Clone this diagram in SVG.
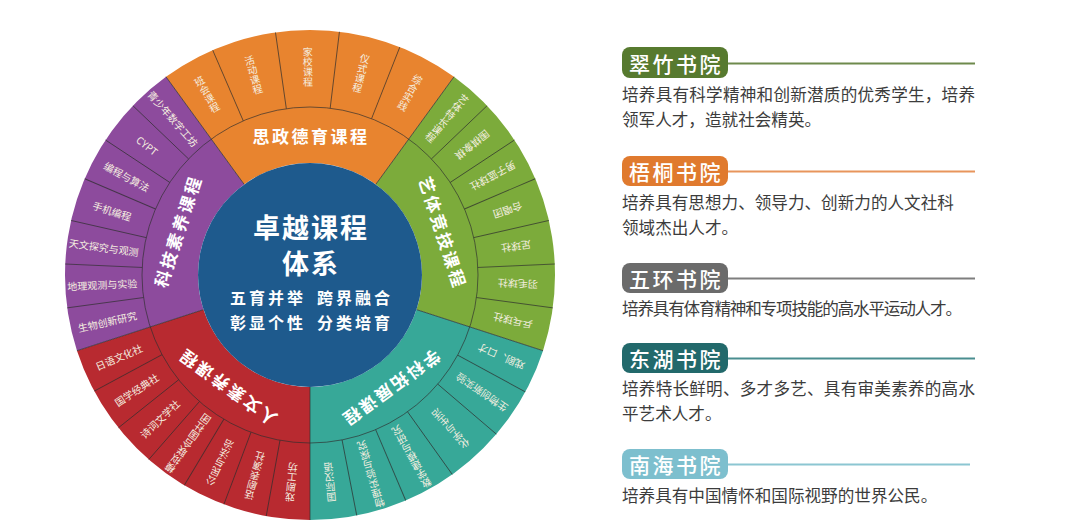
<svg xmlns="http://www.w3.org/2000/svg" width="1080" height="531" viewBox="0 0 1080 531">
<style>
text{font-family:"Noto Sans CJK SC","Noto Sans",sans-serif}
.sep{stroke:#2e2e2e;stroke-width:0.9;stroke-opacity:0.75;fill:none}
.cat{font-weight:700;font-size:17px;fill:#fff;letter-spacing:2.5px}
.lbl{font-size:10px;fill:#f5efe0}
.v{writing-mode:vertical-rl}
.title{font-weight:700;font-size:27px;fill:#fff;letter-spacing:2px}
.motto{font-weight:700;font-size:16px;fill:#fff;letter-spacing:3px}
.tag{font-size:21px;fill:#fff;letter-spacing:2.5px;font-weight:500}
.desc{font-size:16.6px;fill:#3c3c3c}
.tl{stroke-width:2;fill:none}
</style>
<rect width="1080" height="531" fill="#ffffff"/>

<g id="cat-sizheng">
<path d="M 165.99 76.79 A 245 245 0 0 1 454.01 76.79 L 375.83 184.39 A 112 112 0 0 0 244.17 184.39 Z" fill="#e8842f"/>
<text class="cat" transform="translate(310 275) rotate(0)" x="1" y="-140" text-anchor="middle" dominant-baseline="central">思政德育课程</text>
<g transform="translate(310 275)">
<text class="lbl v" transform="rotate(-29.7)" x="0" y="-208" text-anchor="middle">班会课程</text>
<text class="lbl v" transform="rotate(-15.75)" x="0" y="-208" text-anchor="middle">活动课程</text>
<text class="lbl v" transform="rotate(-0.6)" x="0" y="-208" text-anchor="middle">家校课程</text>
<text class="lbl v" transform="rotate(14.2)" x="0" y="-208" text-anchor="middle">仪式课程</text>
<text class="lbl v" transform="rotate(28.75)" x="0" y="-208" text-anchor="middle">综合实践</text>
</g>
</g>

<g id="cat-yiti">
<path d="M 454.01 76.79 A 245 245 0 0 1 543.02 350.71 L 416.52 309.61 A 112 112 0 0 0 375.83 184.39 Z" fill="#7cab3b"/>
<text class="cat" transform="translate(310 275) rotate(72)" x="1" y="-140" text-anchor="middle" dominant-baseline="central">艺体竞技课程</text>
<g transform="translate(310 275)">
<text class="lbl v" transform="rotate(41.14)" x="0" y="-208" text-anchor="middle">艺体特长课程</text>
<text class="lbl" transform="rotate(51.43) translate(0 -208) rotate(90)" text-anchor="middle" dominant-baseline="central">围棋象棋</text>
<text class="lbl" transform="rotate(61.71) translate(0 -208) rotate(90)" text-anchor="middle" dominant-baseline="central">男子篮球社</text>
<text class="lbl" transform="rotate(72) translate(0 -208) rotate(90)" text-anchor="middle" dominant-baseline="central">合唱团</text>
<text class="lbl" transform="rotate(82.29) translate(0 -208) rotate(90)" text-anchor="middle" dominant-baseline="central">足球社</text>
<text class="lbl" transform="rotate(92.57) translate(0 -208) rotate(90)" text-anchor="middle" dominant-baseline="central">羽毛球社</text>
<text class="lbl" transform="rotate(102.86) translate(0 -208) rotate(90)" text-anchor="middle" dominant-baseline="central">乒乓球社</text>
</g>
</g>

<g id="cat-xueke">
<path d="M 543.02 350.71 A 245 245 0 0 1 310 520 L 310 387 A 112 112 0 0 0 416.52 309.61 Z" fill="#37a898"/>
<text class="cat" transform="translate(310 275) rotate(144)" x="1" y="-140" text-anchor="middle" dominant-baseline="central">学科拓展课程</text>
<g transform="translate(310 275)">
<text class="lbl" transform="rotate(113.25) translate(0 -208) rotate(90)" text-anchor="middle" dominant-baseline="central">戏剧、口才</text>
<text class="lbl" transform="rotate(124.5) translate(0 -208) rotate(90)" text-anchor="middle" dominant-baseline="central">生物创新实验</text>
<text class="lbl v" transform="rotate(137.5)" x="0" y="-208" text-anchor="middle">化学与生活</text>
<text class="lbl v" transform="rotate(150.75)" x="0" y="-208" text-anchor="middle">数学建模与研究</text>
<text class="lbl v" transform="rotate(163)" x="0" y="-208" text-anchor="middle">物理实验与探究</text>
<text class="lbl v" transform="rotate(174.5)" x="0" y="-208" text-anchor="middle">国际汉语</text>
</g>
</g>

<g id="cat-renwen">
<path d="M 310 520 A 245 245 0 0 1 76.98 350.71 L 203.48 309.61 A 112 112 0 0 0 310 387 Z" fill="#b82a30"/>
<text class="cat" transform="translate(310 275) rotate(216)" x="1" y="-140" text-anchor="middle" dominant-baseline="central">人文素养课程</text>
<g transform="translate(310 275)">
<text class="lbl v" transform="rotate(185.14)" x="0" y="-208" text-anchor="middle">戏剧工坊</text>
<text class="lbl v" transform="rotate(195.43)" x="0" y="-208" text-anchor="middle">话剧表演社</text>
<text class="lbl v" transform="rotate(205.71)" x="0" y="-208" text-anchor="middle">公民与法治</text>
<text class="lbl v" transform="rotate(216)" x="0" y="-208" text-anchor="middle">模拟联合国社团</text>
<text class="lbl" transform="rotate(226.29) translate(0 -208) rotate(90)" text-anchor="middle" dominant-baseline="central">诗词文学社</text>
<text class="lbl" transform="rotate(236.57) translate(0 -208) rotate(90)" text-anchor="middle" dominant-baseline="central">国学经典社</text>
<text class="lbl" transform="rotate(246.86) translate(0 -208) rotate(90)" text-anchor="middle" dominant-baseline="central">日语文化社</text>
</g>
</g>

<g id="cat-keji">
<path d="M 76.98 350.71 A 245 245 0 0 1 165.99 76.79 L 244.17 184.39 A 112 112 0 0 0 203.48 309.61 Z" fill="#8d4b9d"/>
<text class="cat" transform="translate(310 275) rotate(288)" x="1" y="-140" text-anchor="middle" dominant-baseline="central">科技素养课程</text>
<g transform="translate(310 275)">
<text class="lbl" transform="rotate(257.14) translate(0 -208) rotate(90)" text-anchor="middle" dominant-baseline="central">生物创新研究</text>
<text class="lbl" transform="rotate(267.43) translate(0 -208) rotate(90)" text-anchor="middle" dominant-baseline="central">地理观测与实验</text>
<text class="lbl" transform="rotate(277.71) translate(0 -208) rotate(90)" text-anchor="middle" dominant-baseline="central">天文探究与观测</text>
<text class="lbl" transform="rotate(288) translate(0 -208) rotate(90)" text-anchor="middle" dominant-baseline="central">手机编程</text>
<text class="lbl" transform="rotate(298.29) translate(0 -208) rotate(90)" text-anchor="middle" dominant-baseline="central">编程与算法</text>
<text class="lbl" transform="rotate(308.57) translate(0 -208) rotate(90)" text-anchor="middle" dominant-baseline="central">CYPT</text>
<text class="lbl" transform="rotate(318.86) translate(0 -208) rotate(90)" text-anchor="middle" dominant-baseline="central">青少年数字工坊</text>
</g>
</g>

<g id="separators" transform="translate(310 275)">
<circle class="sep" cx="0" cy="0" r="168"/>
<g class="sep">
<line x1="0" y1="-112" x2="0" y2="-245" transform="rotate(-36)"/>
<line x1="0" y1="-112" x2="0" y2="-245" transform="rotate(36)"/>
<line x1="0" y1="-112" x2="0" y2="-245" transform="rotate(108)"/>
<line x1="0" y1="-112" x2="0" y2="-245" transform="rotate(180)"/>
<line x1="0" y1="-112" x2="0" y2="-245" transform="rotate(252)"/>
<line x1="0" y1="-168" x2="0" y2="-245" transform="rotate(-23.4)"/>
<line x1="0" y1="-168" x2="0" y2="-245" transform="rotate(-8.1)"/>
<line x1="0" y1="-168" x2="0" y2="-245" transform="rotate(6.9)"/>
<line x1="0" y1="-168" x2="0" y2="-245" transform="rotate(21.5)"/>
<line x1="0" y1="-168" x2="0" y2="-245" transform="rotate(46.29)"/>
<line x1="0" y1="-168" x2="0" y2="-245" transform="rotate(56.57)"/>
<line x1="0" y1="-168" x2="0" y2="-245" transform="rotate(66.86)"/>
<line x1="0" y1="-168" x2="0" y2="-245" transform="rotate(77.14)"/>
<line x1="0" y1="-168" x2="0" y2="-245" transform="rotate(87.43)"/>
<line x1="0" y1="-168" x2="0" y2="-245" transform="rotate(97.71)"/>
<line x1="0" y1="-168" x2="0" y2="-245" transform="rotate(118.5)"/>
<line x1="0" y1="-168" x2="0" y2="-245" transform="rotate(130.5)"/>
<line x1="0" y1="-168" x2="0" y2="-245" transform="rotate(144.5)"/>
<line x1="0" y1="-168" x2="0" y2="-245" transform="rotate(157)"/>
<line x1="0" y1="-168" x2="0" y2="-245" transform="rotate(169)"/>
<line x1="0" y1="-168" x2="0" y2="-245" transform="rotate(190.29)"/>
<line x1="0" y1="-168" x2="0" y2="-245" transform="rotate(200.57)"/>
<line x1="0" y1="-168" x2="0" y2="-245" transform="rotate(210.86)"/>
<line x1="0" y1="-168" x2="0" y2="-245" transform="rotate(221.14)"/>
<line x1="0" y1="-168" x2="0" y2="-245" transform="rotate(231.43)"/>
<line x1="0" y1="-168" x2="0" y2="-245" transform="rotate(241.71)"/>
<line x1="0" y1="-168" x2="0" y2="-245" transform="rotate(262.29)"/>
<line x1="0" y1="-168" x2="0" y2="-245" transform="rotate(272.57)"/>
<line x1="0" y1="-168" x2="0" y2="-245" transform="rotate(282.86)"/>
<line x1="0" y1="-168" x2="0" y2="-245" transform="rotate(293.14)"/>
<line x1="0" y1="-168" x2="0" y2="-245" transform="rotate(303.43)"/>
<line x1="0" y1="-168" x2="0" y2="-245" transform="rotate(313.71)"/>
</g>
</g>

<g id="center">
<circle cx="310" cy="275" r="112" fill="#1e5a8d"/>
<text class="title" x="311" y="226" text-anchor="middle" dominant-baseline="central">卓越课程</text>
<text class="title" x="311" y="262" text-anchor="middle" dominant-baseline="central">体系</text>
<text class="motto" x="230" y="297" dominant-baseline="central">五育并举</text>
<text class="motto" x="317" y="297" dominant-baseline="central">跨界融合</text>
<text class="motto" x="230" y="322" dominant-baseline="central">彰显个性</text>
<text class="motto" x="317" y="322" dominant-baseline="central">分类培育</text>
</g>

<g id="college-cuizhu">
<line class="tl" x1="728" y1="63.5" x2="975" y2="63.5" stroke="#6e8a4c"/>
<rect x="622" y="47" width="106" height="31" rx="8" fill="#577a2f"/>
<text class="tag" x="676" y="63" text-anchor="middle" dominant-baseline="central">翠竹书院</text>
<text class="desc" x="622" y="93.5" dominant-baseline="central" textLength="353" lengthAdjust="spacing">培养具有科学精神和创新潜质的优秀学生，培养</text>
<text class="desc" x="622" y="118.5" dominant-baseline="central">领军人才，造就社会精英。</text>
</g>

<g id="college-wutong">
<line class="tl" x1="728" y1="171.5" x2="975" y2="171.5" stroke="#e8955c"/>
<rect x="622" y="156" width="106" height="30" rx="8" fill="#e07a2e"/>
<text class="tag" x="676" y="171" text-anchor="middle" dominant-baseline="central">梧桐书院</text>
<text class="desc" x="622" y="201.7" dominant-baseline="central">培养具有思想力、领导力、创新力的人文社科</text>
<text class="desc" x="622" y="226.7" dominant-baseline="central">领域杰出人才。</text>
</g>

<g id="college-wuhuan">
<line class="tl" x1="728" y1="278.5" x2="975" y2="278.5" stroke="#7e7e7e"/>
<rect x="622" y="263" width="106" height="30" rx="8" fill="#6b6b6b"/>
<text class="tag" x="676" y="278" text-anchor="middle" dominant-baseline="central">五环书院</text>
<text class="desc" x="622" y="308" dominant-baseline="central" textLength="340" lengthAdjust="spacing">培养具有体育精神和专项技能的高水平运动人才。</text>
</g>

<g id="college-donghu">
<line class="tl" x1="728" y1="358.5" x2="975" y2="358.5" stroke="#4a8e90"/>
<rect x="622" y="343" width="106" height="30" rx="8" fill="#22696b"/>
<text class="tag" x="676" y="358" text-anchor="middle" dominant-baseline="central">东湖书院</text>
<text class="desc" x="622" y="388.3" dominant-baseline="central" textLength="353" lengthAdjust="spacing">培养特长鲜明、多才多艺、具有审美素养的高水</text>
<text class="desc" x="622" y="413.3" dominant-baseline="central">平艺术人才。</text>
</g>

<g id="college-nanhai">
<line class="tl" x1="728" y1="464.5" x2="970" y2="464.5" stroke="#8cc6d2"/>
<rect x="622" y="449" width="106" height="30" rx="8" fill="#7dbfce"/>
<text class="tag" x="676" y="464" text-anchor="middle" dominant-baseline="central">南海书院</text>
<text class="desc" x="622" y="495" dominant-baseline="central">培养具有中国情怀和国际视野的世界公民。</text>
</g>
</svg>
